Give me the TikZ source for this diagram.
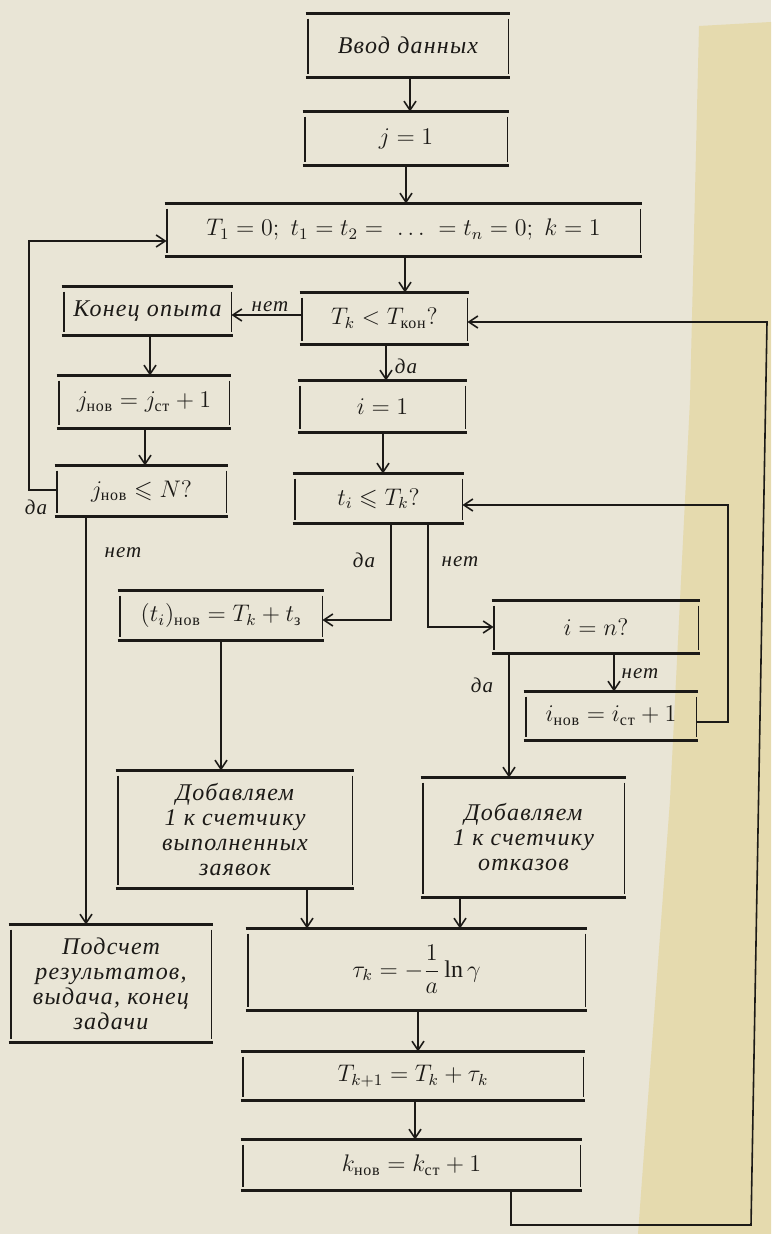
\documentclass[tikz,border=0pt]{standalone}
\usepackage{amsmath,amssymb}
\usepackage{fontspec}
\setmainfont{Liberation Serif}
\newfontfamily\lsfont[LetterSpace=5]{Liberation Serif}
\usetikzlibrary{arrows.meta}
\definecolor{paper}{HTML}{E9E5D6}
\definecolor{strip}{HTML}{E5DAAE}
\definecolor{ink}{HTML}{1C1A17}
\tikzset{
  boxn/.style={inner sep=0pt, text=ink, align=center, font=\fontsize{12}{12.5}\selectfont\lsfont\itshape},
  hl/.style={draw=ink, line width=1.3pt},
  vl/.style={draw=ink, line width=0.9pt},
  conn/.style={draw=ink, line width=0.8pt},
  arr/.style={conn, -{Straight Barb[length=4.5pt,width=6pt]}},
  lbl/.style={text=ink, inner sep=1pt, font=\fontsize{10.5}{12}\selectfont\lsfont\itshape},
}
\newcommand\bxn[6]{\node[boxn, minimum width={(#4-#2)*0.5pt}, minimum height={(#5-#3)*0.5pt}] (#1) at ({(#2+#4)/2},{(#3+#5)/2}) {#6};}
\newcommand\frm[1]{%
  \draw[hl] ([xshift=-1pt]#1.north west) -- ([xshift=1pt]#1.north east);
  \draw[hl] ([xshift=-1pt]#1.south west) -- ([xshift=1pt]#1.south east);
  \draw[vl] ([yshift=-2.5pt]#1.north west) -- ([yshift=1.5pt]#1.south west);
  \draw[vl] ([yshift=-2.5pt]#1.north east) -- ([yshift=1.5pt]#1.south east);}
\newcommand\sub[1]{\text{\upshape #1}}
\begin{document}
\begin{tikzpicture}[x=0.5pt,y=-0.5pt]
\useasboundingbox (0,0) rectangle (771,1234);
\fill[paper] (0,0) rectangle (771,1234);
\fill[strip] (699,26) -- (771,22) -- (771,1234) -- (638,1234) -- (670,800) -- (690,400) -- cycle;

\bxn{vvod}{308}{14}{508}{77}{Ввод данных}
\bxn{j1}{305}{112}{507}{165}{$j=1$}
\bxn{t1}{167}{204}{640}{256}{$T_1=0;\ t_1=t_2=\ \dots\ =t_n=0;\ k=1$}
\bxn{tk}{302}{293}{467}{344}{$T_k<T_{\sub{кон}}?$}
\bxn{konets}{64}{287}{231}{335}{Конец опыта}
\bxn{jnov}{59}{376}{229}{428}{$j_{\sub{нов}}=j_{\sub{ст}}+1$}
\bxn{jle}{57}{466}{226}{516}{$j_{\sub{нов}}\leqslant N?$}
\bxn{i1}{300}{381}{465}{432}{$i=1$}
\bxn{ti}{295}{474}{462}{523}{$t_i\leqslant T_k?$}
\bxn{tinov}{120}{591}{322}{640}{$(t_i)_{\sub{нов}}=T_k+t_{\sub{з}}$}
\bxn{in}{494}{601}{698}{653}{$i=n?$}
\bxn{inov}{526}{692}{696}{740}{$i_{\sub{нов}}=i_{\sub{ст}}+1$}
\bxn{dob1}{118}{771}{352}{888}{Добавляем\\1 к счетчику\\выполненных\\заявок}
\bxn{dob2}{423}{778}{624}{897}{Добавляем\\1 к счетчику\\отказов}
\bxn{podschet}{11}{925}{211}{1042}{Подсчет\\результатов,\\выдача, конец\\задачи}
\bxn{tau}{248}{929}{585}{1010}{$\tau_k=-\dfrac{1}{a}\ln\gamma$}
\bxn{tk1}{243}{1052}{583}{1100}{$T_{k+1}=T_k+\tau_k$}
\bxn{knov}{243}{1140}{580}{1190}{$k_{\sub{нов}}=k_{\sub{ст}}+1$}

\foreach \n in {vvod,j1,t1,tk,konets,jnov,jle,i1,ti,tinov,in,inov,dob1,dob2,podschet,tau,tk1,knov}{\frm{\n}}

\coordinate (lc1) at (29,490);
\coordinate (lc2) at (29,241);
\coordinate (tc1) at (391,620);
\coordinate (tc2) at (428,627);
\coordinate (rc1) at (728,722);
\coordinate (rc2) at (728,505);
\coordinate (bc1) at (511,1225);
\coordinate (bc2) at (751,1225);
\coordinate (bc3) at (767,322);

\draw[arr] (vvod.south -| 410,0) -- (j1.north -| 410,0);
\draw[arr] (j1.south -| 406,0) -- (t1.north -| 406,0);
\draw[arr] (t1.south -| 405,0) -- (tk.north -| 405,0);
\draw[arr] (tk.west |- 0,315) -- node[lbl,above,pos=0.45]{нет} (konets.east |- 0,315);
\draw[arr] (konets.south -| 150,0) -- (jnov.north -| 150,0);
\draw[arr] (jnov.south -| 145,0) -- (jle.north -| 145,0);
\draw[arr] (jle.west |- lc1) -- (lc1) -- (lc2) -- (t1.west |- lc2);
\node[lbl] at (36,507) {да};
\draw[arr] (jle.south -| 86,0) -- (podschet.north -| 86,0);
\node[lbl] at (123,553) {нет};
\draw[arr] (tk.south -| 386,0) -- (i1.north -| 386,0);
\node[lbl] at (406,366) {да};
\draw[arr] (i1.south -| 383,0) -- (ti.north -| 383,0);
\draw[arr] (ti.south -| tc1) -- (tc1) -- (tinov.east |- tc1);
\node[lbl] at (364,560) {да};
\draw[arr] (ti.south -| tc2) -- (tc2) -- (in.west |- tc2);
\node[lbl] at (460,562) {нет};
\draw[arr] (tinov.south -| 221,0) -- (dob1.north -| 221,0);
\draw[arr] (in.south -| 509,0) -- (dob2.north -| 509,0);
\node[lbl] at (482,685) {да};
\draw[arr] (in.south -| 614,0) -- (inov.north -| 614,0);
\node[lbl] at (640,674) {нет};
\draw[arr] (inov.east |- rc1) -- (rc1) -- (rc2) -- (ti.east |- rc2);
\draw[arr] (dob1.south -| 307,0) -- (tau.north -| 307,0);
\draw[arr] (dob2.south -| 460,0) -- (tau.north -| 460,0);
\draw[arr] (tau.south -| 418,0) -- (tk1.north -| 418,0);
\draw[arr] (tk1.south -| 415,0) -- (knov.north -| 415,0);
\draw[arr] (knov.south -| bc1) -- (bc1) -- (bc2) -- (bc3) -- (tk.east |- bc3);
\end{tikzpicture}
\end{document}
